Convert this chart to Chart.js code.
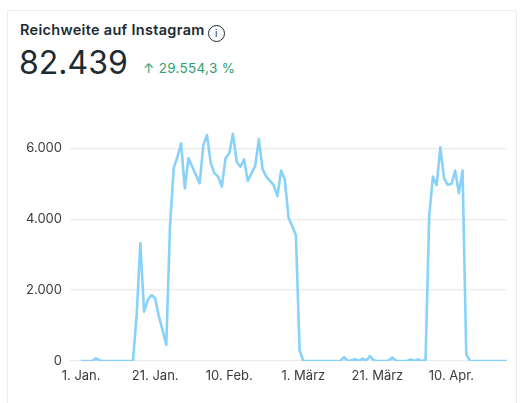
<!DOCTYPE html>
<html>
<head>
<meta charset="utf-8">
<script src="https://cdn.jsdelivr.net/npm/chart.js@4.4.1/dist/chart.umd.min.js"></script>
<style>
  html, body { margin: 0; padding: 0; background: #ffffff; width: 527px; height: 403px; overflow: hidden; }
  .card { position: absolute; left: 7px; top: 10px; width: 510px; height: 400px; border: 1px solid #ececec; border-radius: 2px; box-sizing: border-box; }
  .title { position: absolute; left: 20px; top: 21px; font-family: Inter, Roboto, sans-serif; font-weight: 600; font-size: 14.5px; color: #1c2b33; white-space: nowrap; letter-spacing: 0.3px; }
  .info { display: inline-block; width: 15px; height: 15px; border: 1.2px solid #1c2b33; border-radius: 50%; font-size: 10px; line-height: 15px; text-align: center; font-weight: 400; vertical-align: -2px; margin-left: 3px; letter-spacing: 0; }
  .big { position: absolute; left: 19px; top: 43px; font-family: Inter, Roboto, sans-serif; font-size: 32px; color: #1c2b33; white-space: nowrap; }
  .delta { position: absolute; left: 143px; top: 60px; font-family: Inter, Roboto, sans-serif; font-size: 13.5px; color: #2f9e6a; white-space: nowrap; letter-spacing: 0.3px; }
  #wrap { position: absolute; left: 0; top: 0; width: 527px; height: 403px; }
</style>
</head>
<body>
<div class="card"></div>
<div class="title">Reichweite auf Instagram<span class="info">i</span></div>
<div class="big">82.439</div>
<div class="delta">↑ 29.554,3 %</div>
<div id="wrap"><canvas id="c"></canvas></div>
<script>
// Daily reach, 1 Jan .. 25 Apr (day index 0..115)
const reachJan = [0,0,0,0,75,15,0,0,0,0,0,0,0,0,0,1300,3320,1390,1720,1860,1770,1250,870,450,3790,5440,5760,6140,4870,5720,5480];
const reachFeb = [5250,5010,6090,6370,5580,5300,5200,4920,5720,5860,6400,5620,5480,5690,5080,5290,5500,6250,5410,5200,5080,4960,4650,5370,5120,4050,3800,3550,300];
const reachMar = [0,0,0,0,0,0,0,0,0,0,0,110,0,20,50,0,65,10,140,20,0,0,0,10,95,10,0,0,0,45,0];
const reachApr = [45,0,30,4100,5200,4960,6030,5160,4970,4990,5370,4730,5370,190,0,0,0,0,0,0,0,0,0,0,0];
const reach = reachJan.concat(reachFeb, reachMar, reachApr);
const dayIndex = reach.map((v, i) => i);
const tickDays = [0, 20, 40, 60, 80, 100];
const tickLabels = ["1. Jan.", "21. Jan.", "10. Feb.", "1. März", "21. März", "10. Apr."];
const yTicks = [0, 2000, 4000, 6000];
const yTickLabels = ["0", "2.000", "4.000", "6.000"];

const font = { family: "Inter, Roboto, sans-serif", size: 13 };

new Chart(document.getElementById('c'), {
  type: 'line',
  data: {
    datasets: [{
      data: dayIndex.map(i => ({ x: i, y: reach[i] })),
      borderColor: '#88d2fa',
      borderWidth: 2.6,
      pointRadius: 0,
      tension: 0,
      fill: false,
      borderJoinStyle: 'round'
    }]
  },
  options: {
    responsive: true,
    maintainAspectRatio: false,
    animation: false,
    events: [],
    layout: { padding: { top: 127, right: 20, left: 0, bottom: 0 } },
    plugins: { legend: { display: false }, tooltip: { enabled: false } },
    scales: {
      x: {
        type: 'linear',
        min: -3,
        max: 115,
        afterBuildTicks: s => { s.ticks = tickDays.map(v => ({ value: v })); },
        afterFit: s => { s.height = 42; },
        grid: { display: false, drawTicks: false },
        border: { display: false },
        ticks: {
          autoSkip: false, maxRotation: 0, padding: 7, color: '#3a3a3a', font,
          callback: (v, i) => tickLabels[i]
        }
      },
      y: {
        min: 0,
        max: 6600,
        afterBuildTicks: s => { s.ticks = yTicks.map(v => ({ value: v })); },
        afterFit: s => { s.width = 70; },
        grid: { color: '#ebebeb', lineWidth: 1.2, drawTicks: false },
        border: { display: false },
        ticks: {
          padding: 8, color: '#3a3a3a', font,
          callback: (v, i) => yTickLabels[i]
        }
      }
    }
  }
});
</script>
</body>
</html>
